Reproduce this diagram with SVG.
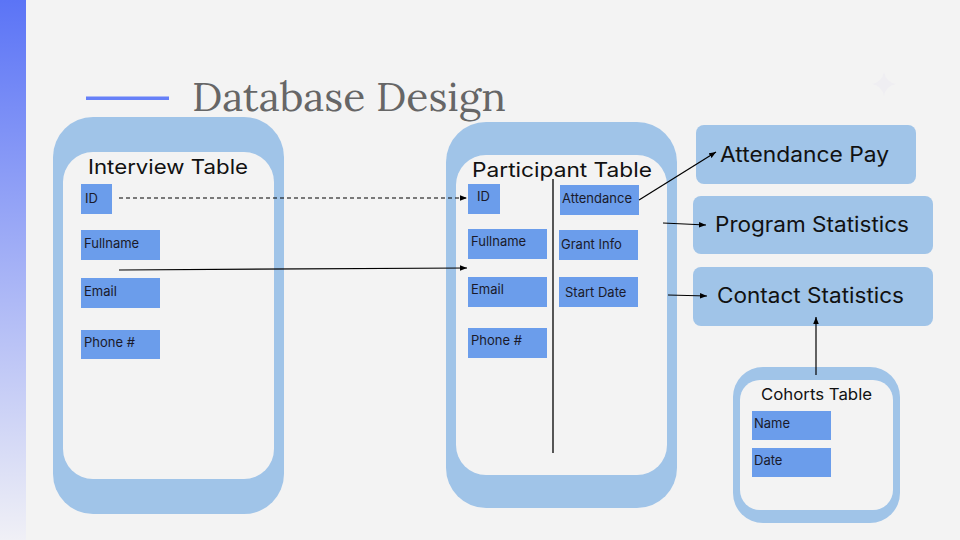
<svg xmlns="http://www.w3.org/2000/svg" width="960" height="540" viewBox="0 0 960 540">
<defs>
<linearGradient id="bar" x1="0" y1="0" x2="0" y2="1">
<stop offset="0" stop-color="#5b74f6"/>
<stop offset="1" stop-color="#f0f0f6"/>
</linearGradient>
<marker id="ah" viewBox="0 0 10 10" refX="10" refY="5" markerWidth="7" markerHeight="7" markerUnits="userSpaceOnUse" orient="auto">
<path d="M0,1 L10,5 L0,9 Z" fill="#000"/>
</marker>
<style>
.outer{fill:#a0c4e8}
.inner{fill:#f3f3f3}
.field{fill:#6b9deb}
.ft{font-family:Inter,"Open Sans","Liberation Sans",sans-serif;font-size:13px;fill:#1a1a2a}
.hd{font-family:Inter,"Open Sans","Liberation Sans",sans-serif;font-size:20px;fill:#111}
.box{fill:#a0c4e8}
.bt{font-family:Inter,"Open Sans","Liberation Sans",sans-serif;font-size:21px;fill:#111}
.ln{stroke:#000;stroke-width:1.2;fill:none}
</style>
</defs>
<rect width="960" height="540" fill="#f3f3f3"/>
<rect x="0" y="0" width="26" height="540" fill="url(#bar)"/>
<path d="M884,72 Q886,82 896,84 Q886,86 884,96 Q882,86 872,84 Q882,82 884,72 Z" fill="#efeef2"/>
<g id="title">
<rect x="86" y="96.5" width="83" height="3.5" fill="#6680f8"/>
<text x="192" y="111" font-family="Lora,'Liberation Serif',serif" font-size="40" fill="#666" textLength="314" lengthAdjust="spacingAndGlyphs">Database Design</text>
</g>
<g id="interview-table">
<rect class="outer" x="53" y="117" width="231" height="397" rx="40"/>
<rect class="inner" x="63" y="152" width="211" height="327" rx="30"/>
<text class="hd" x="88" y="174" textLength="160" lengthAdjust="spacingAndGlyphs">Interview Table</text>
<rect class="field" x="81" y="184" width="31" height="30"/>
<text class="ft" x="85" y="203">ID</text>
<rect class="field" x="81" y="230" width="79" height="30"/>
<text class="ft" x="84" y="248">Fullname</text>
<rect class="field" x="81" y="278" width="79" height="30"/>
<text class="ft" x="84" y="296">Email</text>
<rect class="field" x="81" y="330" width="79" height="29"/>
<text class="ft" x="84" y="347">Phone #</text>
</g>
<g id="participant-table">
<rect class="outer" x="446" y="122" width="231" height="386" rx="40"/>
<rect class="inner" x="456" y="155" width="211" height="320" rx="30"/>
<text class="hd" x="472" y="177" textLength="180" lengthAdjust="spacingAndGlyphs">Participant Table</text>
<rect class="field" x="468" y="184" width="32" height="30"/>
<text class="ft" x="477" y="201">ID</text>
<rect class="field" x="468" y="229" width="79" height="30"/>
<text class="ft" x="471" y="246">Fullname</text>
<rect class="field" x="468" y="277" width="79" height="30"/>
<text class="ft" x="471" y="294">Email</text>
<rect class="field" x="468" y="328" width="79" height="30"/>
<text class="ft" x="471" y="345">Phone #</text>
<rect class="field" x="560" y="185" width="79" height="30"/>
<text class="ft" x="562" y="203">Attendance</text>
<rect class="field" x="559" y="230" width="79" height="30"/>
<text class="ft" x="561" y="249">Grant Info</text>
<rect class="field" x="559" y="277" width="79" height="30"/>
<text class="ft" x="565" y="297">Start Date</text>
<line x1="553" y1="179" x2="553" y2="453" stroke="#000" stroke-width="1.3"/>
</g>
<g id="attendance-pay">
<rect class="box" x="696" y="125" width="220" height="59" rx="8"/>
<text class="bt" x="720" y="162" textLength="169" lengthAdjust="spacingAndGlyphs">Attendance Pay</text>
</g>
<g id="program-statistics">
<rect class="box" x="693" y="196" width="240" height="58" rx="8"/>
<text class="bt" x="715" y="232" textLength="194" lengthAdjust="spacingAndGlyphs">Program Statistics</text>
</g>
<g id="contact-statistics">
<rect class="box" x="693" y="267" width="240" height="59" rx="8"/>
<text class="bt" x="717" y="303" textLength="187" lengthAdjust="spacingAndGlyphs">Contact Statistics</text>
</g>
<g id="cohorts-table">
<rect class="outer" x="733" y="367" width="167" height="156" rx="30"/>
<rect class="inner" x="740" y="380" width="153" height="130" rx="20"/>
<text x="761" y="400" font-family="Inter,'Open Sans','Liberation Sans',sans-serif" font-size="16" fill="#111" textLength="111" lengthAdjust="spacingAndGlyphs">Cohorts Table</text>
<rect class="field" x="752" y="411" width="79" height="29"/>
<text class="ft" x="754" y="428">Name</text>
<rect class="field" x="752" y="448" width="79" height="29"/>
<text class="ft" x="754" y="465">Date</text>
</g>
<g id="connectors">
<line class="ln" x1="119" y1="198" x2="467" y2="198" stroke-dasharray="4,3" marker-end="url(#ah)"/>
<line class="ln" x1="119" y1="270" x2="467" y2="268" marker-end="url(#ah)"/>
<line class="ln" x1="639" y1="200" x2="716" y2="152" marker-end="url(#ah)"/>
<line class="ln" x1="663" y1="223" x2="706" y2="225" marker-end="url(#ah)"/>
<line class="ln" x1="668" y1="295" x2="707" y2="296" marker-end="url(#ah)"/>
<line class="ln" x1="816" y1="375" x2="816" y2="317" marker-end="url(#ah)"/>
</g>
</svg>
